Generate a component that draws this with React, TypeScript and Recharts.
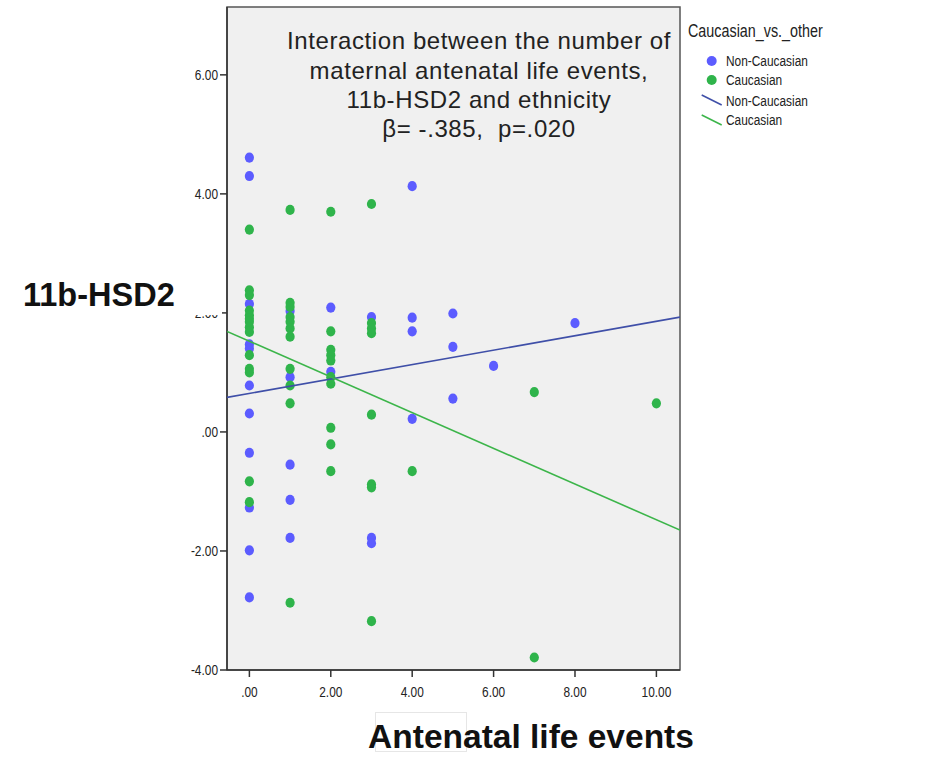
import { ScatterChart, Scatter, XAxis, YAxis, ReferenceArea } from "recharts";

// number of antenatal life events / 11b-HSD2, per group
const nonCaucEvents = [0, 0, 0, 0, 0, 0, 0, 0, 0, 0, 0, 1, 1, 1, 1, 1, 2, 2, 3, 3, 3, 4, 4, 4, 4, 5, 5, 5, 6, 8];
const nonCaucHsd = [4.61, 4.3, 2.15, 1.47, 1.4, 0.78, 0.31, -0.35, -1.27, -1.99, -2.78, 2.03, 0.92, -0.55, -1.14, -1.78, 2.09, 1.01, 1.93, -1.78, -1.87, 4.13, 1.92, 1.69, 0.22, 1.99, 1.43, 0.56, 1.11, 1.83];

const caucEvents = [0, 0, 0, 0, 0, 0, 0, 0, 0, 0, 0, 0, 0, 0, 1, 1, 1, 1, 1, 1, 1, 1, 1, 1, 1, 2, 2, 2, 2, 2, 2, 2, 2, 2, 2, 3, 3, 3, 3, 3, 3, 3, 3, 4, 7, 7, 10];
const caucHsd = [3.4, 2.38, 2.3, 2.04, 1.96, 1.9, 1.85, 1.76, 1.68, 1.29, 1.06, 1.0, -0.83, -1.18, 3.73, 2.17, 2.1, 1.93, 1.85, 1.74, 1.6, 1.06, 0.78, 0.48, -2.87, 3.7, 1.69, 1.38, 1.29, 1.2, 0.92, 0.81, 0.07, -0.21, -0.66, 3.83, 1.83, 1.74, 1.66, 0.29, -0.88, -0.93, -3.18, -0.66, 0.67, -3.79, 0.48];

// fit line ends
const fitX = [-0.55, 10.58];
const nonCaucFitY = [0.58, 1.93];
const caucFitY = [1.69, -1.65];

const xTicks = [0, 2, 4, 6, 8, 10];
const yTicks = [-4, -2, 0, 2, 4, 6];
const xDomain = [-0.55, 10.58];
const yDomain = [-4, 7.14];

const titleLines = [
  "Interaction between the number of",
  "maternal antenatal life events,",
  "11b-HSD2 and ethnicity",
  "\u03b2= -.385,  p=.020",
];

const legendTitle = "Caucasian_vs._other";
const legendNames = ["Non-Caucasian", "Caucasian"];

const BLUE = "#5c5cff";
const GREEN = "#2fb44b";
const BLUE_LINE = "#3f4fa8";
const GREEN_LINE = "#3cb54a";
const SANS = "'Liberation Sans', Arial, sans-serif";
const NARROW_SCALE = 0.82;

const toPoints = (xs: number[], ys: number[]) => xs.map((x, i) => ({ x, y: ys[i] }));

const nonCauc = toPoints(nonCaucEvents, nonCaucHsd);
const cauc = toPoints(caucEvents, caucHsd);
const nonCaucFit = toPoints(fitX, nonCaucFitY);
const caucFit = toPoints(fitX, caucFitY);

const fmt = (v: number) => (v === 0 ? ".00" : v.toFixed(2));

const dot = (color: string) => (props: any) => (
  <ellipse cx={props.cx} cy={props.cy} rx={4.6} ry={5.1} fill={color} />
);

const noDot = () => <g />;

// arial-narrow look: squeeze Liberation Sans horizontally
function NarrowText({ x, y, anchor = "start", size = 14.5, children }: any) {
  return (
    <g transform={`translate(${x},${y}) scale(${NARROW_SCALE},1)`}>
      <text x={0} y={0} textAnchor={anchor} style={{ fontFamily: SANS, fontSize: size, fill: "#222" }}>
        {children}
      </text>
    </g>
  );
}

const XTick = (props: any) => {
  const { x, y, payload } = props;
  return <NarrowText x={x} y={y + 10.3} anchor="middle">{fmt(payload.value)}</NarrowText>;
};

const YTick = (props: any) => {
  const { x, y, payload } = props;
  return <NarrowText x={x} y={y + 5.2} anchor="end">{fmt(payload.value)}</NarrowText>;
};

function LegendBox() {
  return (
    <svg width={170} height={130} style={{ position: "absolute", left: 686, top: 14 }}>
      <NarrowText x={2} y={22.7} size={17.5}>{legendTitle}</NarrowText>
      <circle cx={25.7} cy={47} r={5} fill={BLUE} />
      <NarrowText x={40} y={52.2}>{legendNames[0]}</NarrowText>
      <circle cx={25.7} cy={66} r={5} fill={GREEN} />
      <NarrowText x={40} y={71.2}>{legendNames[1]}</NarrowText>
      <line x1={15.7} y1={81} x2={35.7} y2={91} stroke={BLUE_LINE} strokeWidth={1.5} />
      <NarrowText x={40} y={92}>{legendNames[0]}</NarrowText>
      <line x1={15.7} y1={101} x2={35.7} y2={111} stroke={GREEN_LINE} strokeWidth={1.5} />
      <NarrowText x={40} y={111.2}>{legendNames[1]}</NarrowText>
    </svg>
  );
}

export default function App() {
  return (
    <div style={{ position: "absolute", left: 0, top: 0, width: 936, height: 762, background: "#fff" }}>
      <ScatterChart width={936} height={762} margin={{ top: 7, right: 256, bottom: 52, left: 167 }}>
        <ReferenceArea
          x1={xDomain[0]}
          x2={xDomain[1]}
          y1={yDomain[0]}
          y2={yDomain[1]}
          fill="#f0f0f0"
          fillOpacity={1}
          stroke="#555"
          strokeWidth={1.5}
        />
        <XAxis
          type="number"
          dataKey="x"
          domain={xDomain}
          ticks={xTicks}
          allowDataOverflow
          tick={<XTick />}
          tickSize={7}
          tickMargin={10}
          height={40}
          stroke="#333"
          tickLine={{ stroke: "#333", strokeWidth: 1.5 }}
          axisLine={{ stroke: "#333", strokeWidth: 1.5 }}
        />
        <YAxis
          type="number"
          dataKey="y"
          domain={yDomain}
          ticks={yTicks}
          allowDataOverflow
          tick={<YTick />}
          tickSize={7}
          tickMargin={2}
          width={60}
          stroke="#333"
          tickLine={{ stroke: "#333", strokeWidth: 1.5 }}
          axisLine={{ stroke: "#333", strokeWidth: 1.5 }}
        />
        <Scatter name="Non-Caucasian" data={nonCauc} shape={dot(BLUE)} isAnimationActive={false} />
        <Scatter name="Caucasian" data={cauc} shape={dot(GREEN)} isAnimationActive={false} />
        <Scatter
          name="Non-Caucasian fit"
          data={nonCaucFit}
          line={{ stroke: BLUE_LINE, strokeWidth: 1.6 }}
          shape={noDot}
          legendType="none"
          isAnimationActive={false}
        />
        <Scatter
          name="Caucasian fit"
          data={caucFit}
          line={{ stroke: GREEN_LINE, strokeWidth: 1.6 }}
          shape={noDot}
          legendType="none"
          isAnimationActive={false}
        />
      </ScatterChart>

      <LegendBox />

      <div
        style={{
          position: "absolute",
          left: 229,
          width: 500,
          top: 26.4,
          textAlign: "center",
          fontFamily: SANS,
          fontSize: 24,
          lineHeight: "29.2px",
          letterSpacing: 0.6,
          color: "#222",
          whiteSpace: "pre",
        }}
      >
        {titleLines.map((l) => (
          <div key={l}>{l}</div>
        ))}
      </div>

      {/* the big axis label sits on a white box that hides most of the 2.00 tick label, as in the original */}
      <div
        style={{
          position: "absolute",
          left: 10,
          top: 274,
          width: 212,
          height: 41,
          background: "#fff",
        }}
      >
        <div
          style={{
            position: "absolute",
            left: 13,
            top: 5,
            fontFamily: SANS,
            fontWeight: "bold",
            fontSize: 32.5,
            lineHeight: "32px",
            color: "#111",
            whiteSpace: "nowrap",
          }}
        >
          11b-HSD2
        </div>
      </div>

      <div
        style={{
          position: "absolute",
          left: 375,
          top: 712,
          width: 92,
          height: 40,
          border: "1px solid #e6e6e6",
          boxSizing: "border-box",
        }}
      />
      <div
        style={{
          position: "absolute",
          left: 331,
          width: 400,
          top: 720,
          textAlign: "center",
          fontFamily: SANS,
          fontWeight: "bold",
          fontSize: 33.5,
          lineHeight: "33px",
          color: "#111",
          whiteSpace: "nowrap",
        }}
      >
        Antenatal life events
      </div>
    </div>
  );
}
